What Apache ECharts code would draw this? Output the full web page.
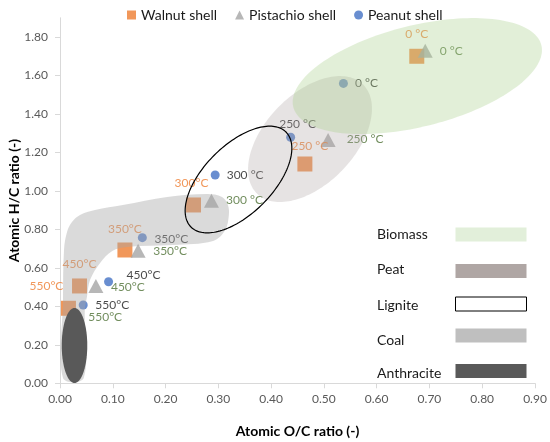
<!DOCTYPE html>
<html><head><meta charset="utf-8">
<script src="https://cdn.jsdelivr.net/npm/echarts@6/dist/echarts.min.js"></script>
<style>html,body{margin:0;padding:0;background:#fff}#c{width:550px;height:442px}</style>
</head><body><div id="c"></div>
<script>
// ---------- data ----------
const temperatures = ['0', '250', '300', '350', '450', '550'];
const walnutX = [0.676, 0.464, 0.253, 0.123, 0.037, 0.016];
const walnutY = [1.700, 1.140, 0.927, 0.693, 0.506, 0.390];
const walnutLabels = ['0 °C', '250 °C', '300°C', '350°C', '450°C', '550°C'];
const pistachioX = [0.692, 0.508, 0.287, 0.148, 0.068, 0.025];
const pistachioY = [1.729, 1.265, 0.949, 0.689, 0.506, 0.346];
const pistachioLabels = ['0 °C', '250 °C', '300 °C', '350°C', '450°C', '550°C'];
const peanutX = [0.537, 0.437, 0.294, 0.156, 0.092, 0.044];
const peanutY = [1.559, 1.279, 1.083, 0.757, 0.528, 0.407];
const peanutLabels = ['0 °C', '250 °C', '300 °C', '350°C', '450°C', '550°C'];
const xTicks = [0, 0.1, 0.2, 0.3, 0.4, 0.5, 0.6, 0.7, 0.8, 0.9];
const yTicks = [0, 0.2, 0.4, 0.6, 0.8, 1.0, 1.2, 1.4, 1.6, 1.8];
const seriesNames = ['Walnut shell', 'Pistachio shell', 'Peanut shell'];
const regionNames = ['Biomass', 'Peat', 'Lignite', 'Coal', 'Anthracite'];
// region ellipses in data units: [center, end of major semi-axis, end of minor semi-axis]
const biomassEllipse = [[0.677, 1.597], [0.912, 1.758], [0.7005, 1.342]];
const peatEllipse = [[0.4737, 1.2698], [0.5739, 1.5541], [0.5349, 1.1076]];
const ligniteEllipse = [[0.3382, 1.0593], [0.4282, 1.3062], [0.3842, 0.933]];
const anthraciteEllipse = [[0.0275, 0.1965], [0.0275, 0.3914], [0.0517, 0.1965]];
// coal band outline in data units
const coalX = [0.0057, 0.0057, 0.0076, 0.0133, 0.0227, 0.0379, 0.0663, 0.119, 0.203, 0.279, 0.307, 0.318, 0.320, 0.313, 0.290, 0.214, 0.127, 0.099, 0.076, 0.057, 0.051, 0.047, 0.045];
const coalY = [0.028, 0.433, 0.693, 0.786, 0.838, 0.875, 0.901, 0.927, 0.969, 0.984, 0.969, 0.928, 0.876, 0.797, 0.740, 0.719, 0.709, 0.688, 0.626, 0.538, 0.449, 0.381, 0.028];

// ---------- label placement (pixels, relative to point centre) ----------
const walnutLabelOffset = [[0, -22], [5, -18], [-2, -22], [0, -21], [0, -22], [-22, -22]];
const pistachioLabelOffset = [[26, 0], [37, -1], [33, -1], [32, 0], [32, 1], [32, 0]];
const peanutLabelOffset = [[23, 0], [7, -13], [30, 0], [29, 1], [35, -7], [29, 0]];

const FONT = 'Lato';
const C_WAL = '#ed7d31', C_PIS = '#a5a5a5', C_PEA = '#4472c4';

function pts(xs, ys, labels, offs, color) {
  return xs.map((x, i) => ({
    value: [x, ys[i]],
    label: { show: true, formatter: labels[i], position: 'inside', offset: offs[i], color: color, fontSize: 12, fontFamily: FONT }
  }));
}

function ellipseSeries(name, e, fill, stroke, z) {
  return {
    type: 'custom', name: name, z: z, silent: true, clip: false,
    coordinateSystem: 'cartesian2d',
    data: [[e[0][0], e[0][1], e[1][0], e[1][1], e[2][0], e[2][1]]],
    encode: { x: 0, y: 1 },
    renderItem: function (params, api) {
      const c = api.coord([api.value(0), api.value(1)]);
      const a = api.coord([api.value(2), api.value(3)]);
      const b = api.coord([api.value(4), api.value(5)]);
      const p = [];
      const n = 160;
      for (let i = 0; i < n; i++) {
        const t = i / n * 2 * Math.PI;
        p.push([c[0] + Math.cos(t) * (a[0] - c[0]) + Math.sin(t) * (b[0] - c[0]),
                c[1] + Math.cos(t) * (a[1] - c[1]) + Math.sin(t) * (b[1] - c[1])]);
      }
      return { type: 'polygon', shape: { points: p }, style: { fill: fill, stroke: stroke, lineWidth: stroke ? 1.2 : 0 } };
    }
  };
}

const coalSeries = {
  type: 'custom', name: 'Coal', z: 3, silent: true, clip: false,
  coordinateSystem: 'cartesian2d',
  data: [[coalX[0], coalY[0]]],
  renderItem: function (params, api) {
    const p = coalX.map((x, i) => api.coord([x, coalY[i]]));
    return { type: 'polygon', shape: { points: p, smooth: 0.35 }, style: { fill: 'rgba(166,166,166,0.42)' } };
  }
};

const chart = echarts.init(document.getElementById('c'), null, { renderer: 'canvas' });

const legendRows = [
  { name: regionNames[0], ty: 236.7, by: 227.5, fill: '#e2efda', stroke: null },
  { name: regionNames[1], ty: 271.7, by: 264, fill: '#afa6a4', stroke: null },
  { name: regionNames[2], ty: 307.3, by: 297, fill: '#ffffff', stroke: '#000' },
  { name: regionNames[3], ty: 342.7, by: 328.5, fill: '#bfbfbf', stroke: null },
  { name: regionNames[4], ty: 375.7, by: 364, fill: '#595959', stroke: null }
];
const graphics = [];
legendRows.forEach(r => {
  graphics.push({ type: 'text', left: 377, top: r.ty - 9, style: { text: r.name, font: '14px ' + FONT, fill: '#1a1a1a' }, z: 10 });
  graphics.push({ type: 'rect', shape: { x: 455.5, y: r.by, width: 71, height: 14 }, style: { fill: r.fill, stroke: r.stroke, lineWidth: r.stroke ? 1 : 0 }, z: 10 });
});

chart.setOption({
  animation: false,
  backgroundColor: '#fff',
  textStyle: { fontFamily: FONT },
  grid: { left: 60, right: 15, top: 17.8, bottom: 58.7, containLabel: false, outerBoundsMode: 'none' },
  legend: {
    top: 3, left: 122, itemWidth: 9, itemHeight: 9, itemGap: 18,
    textStyle: { fontSize: 14, color: '#1a1a1a', fontFamily: FONT },
    data: [
      { name: seriesNames[0], icon: 'rect' },
      { name: seriesNames[1], icon: 'triangle' },
      { name: seriesNames[2], icon: 'circle' }
    ]
  },
  xAxis: {
    type: 'value', min: 0, max: 0.9, interval: 0.1,
    name: 'Atomic O/C ratio (-)', nameLocation: 'middle', nameGap: 41, nameMoveOverlap: false,
    nameTextStyle: { fontSize: 14, fontWeight: 'bold', color: '#000', fontFamily: FONT },
    axisLine: { show: true, lineStyle: { color: '#d9d9d9', width: 1 } },
    axisTick: { show: true, length: 5, lineStyle: { color: '#d9d9d9' } },
    axisLabel: { color: '#595959', fontSize: 12, margin: 10, fontFamily: FONT, formatter: v => v.toFixed(2) },
    splitLine: { show: false }
  },
  yAxis: {
    type: 'value', min: 0, max: 1.9, interval: 0.2,
    name: 'Atomic H/C ratio (-)', nameLocation: 'middle', nameGap: 39, nameMoveOverlap: false,
    nameTextStyle: { fontSize: 14, fontWeight: 'bold', color: '#000', fontFamily: FONT },
    axisLine: { show: true, lineStyle: { color: '#d9d9d9', width: 1 } },
    axisTick: { show: true, length: 5, lineStyle: { color: '#d9d9d9' }, customValues: yTicks },
    axisLabel: { color: '#595959', fontSize: 12, margin: 12, fontFamily: FONT, customValues: yTicks, formatter: v => v.toFixed(2) },
    splitLine: { show: false }
  },
  graphic: graphics,
  series: [
    { type: 'scatter', name: seriesNames[0], z: 2, symbol: 'rect', symbolSize: 15, itemStyle: { color: C_WAL },
      data: pts(walnutX, walnutY, walnutLabels, walnutLabelOffset, C_WAL) },
    { type: 'scatter', name: seriesNames[1], z: 2, symbol: 'triangle', symbolSize: [15, 14], itemStyle: { color: C_PIS },
      data: pts(pistachioX, pistachioY, pistachioLabels, pistachioLabelOffset, '#4e7035') },
    { type: 'scatter', name: seriesNames[2], z: 2, symbol: 'circle', symbolSize: 9, itemStyle: { color: C_PEA },
      data: pts(peanutX, peanutY, peanutLabels, peanutLabelOffset, '#1a1a1a') },
    ellipseSeries('Peat', peatEllipse, 'rgba(175,166,164,0.31)', null, 3),
    ellipseSeries('Biomass', biomassEllipse, 'rgba(169,209,142,0.34)', null, 4),
    coalSeries,
    ellipseSeries('Lignite', ligniteEllipse, 'rgba(0,0,0,0)', '#000', 5),
    ellipseSeries('Anthracite', anthraciteEllipse, '#595959', null, 6)
  ]
});
</script></body></html>
